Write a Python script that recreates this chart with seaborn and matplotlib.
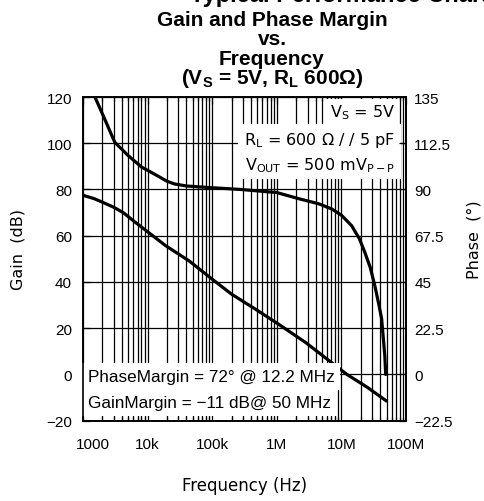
import matplotlib
matplotlib.use('Agg')
import matplotlib.pyplot as plt
import matplotlib.ticker as mticker
from matplotlib.transforms import ScaledTranslation
import pandas as pd
import seaborn as sns

# values
gain_freq = [1e3, 1.5e3, 2e3, 3e3, 4.2e3, 6e3, 9.5e3, 1.9e4, 4.4e4, 1e5, 2e5, 4.7e5,
             1.07e6, 2.8e6, 5.6e6, 1.22e7, 2.5e7, 5e7]
gain_db = [77.5, 76, 74.5, 72.3, 70, 66.5, 62.2, 55.7, 49.1, 41.2, 34.7, 28.2,
           21.7, 13.8, 7.3, 0, -5.5, -11.5]

phase_freq = [1.53e3, 2.05e3, 3.1e3, 5e3, 8e3, 1.45e4, 2e4, 2.6e4, 4e4, 8.4e4, 2.8e5,
              1e6, 2.2e6, 4.5e6, 7.1e6, 1e7, 1.44e7, 1.9e7, 2.3e7, 2.8e7, 3.3e7,
              3.8e7, 4.2e7, 4.7e7, 4.85e7]
phase_deg = [135, 126, 113, 106.5, 101, 96.5, 94, 92.7, 91.7, 91, 90,
             88.5, 85.5, 83, 80.5, 77.5, 72.4, 66, 59.5, 52, 43,
             34, 27, 9, 0]

freq_ticks = [1e3, 1e4, 1e5, 1e6, 1e7, 1e8]
freq_labels = ['1000', '10k', '100k', '1M', '10M', '100M']
gain_ticks = [-20, 0, 20, 40, 60, 80, 100, 120]
phase_ticks = [-22.5, 0, 22.5, 45, 67.5, 90, 112.5, 135]
phase_labels = ['\u221222.5', '0', '22.5', '45', '67.5', '90', '112.5', '135']

gain_df = pd.DataFrame({'freq': gain_freq, 'gain': gain_db})
phase_df = pd.DataFrame({'freq': phase_freq, 'phase': phase_deg})

sns.set_theme(style='white')
plt.rcParams['font.family'] = ['Liberation Sans', 'DejaVu Sans']
plt.rcParams['text.color'] = 'black'
plt.rcParams['axes.labelcolor'] = 'black'
plt.rcParams['xtick.color'] = 'black'
plt.rcParams['ytick.color'] = 'black'
plt.rcParams['mathtext.fontset'] = 'custom'
plt.rcParams['mathtext.rm'] = 'DejaVu Sans'
plt.rcParams['mathtext.bf'] = 'Liberation Sans:bold'

W, H = 485, 502
fig = plt.figure(figsize=(W / 100, H / 100), dpi=100)
ax = fig.add_axes([83 / W, 1 - 421.7 / H, 323 / W, 323.7 / H])

sns.lineplot(gain_df, x='freq', y='gain', color='black', linewidth=2.3, ax=ax)

ax.set_xscale('log')
ax.set_xlim(1e3, 1e8)
ax.set_ylim(-20, 120)
ax.xaxis.set_major_locator(mticker.FixedLocator(freq_ticks))
ax.xaxis.set_minor_locator(mticker.LogLocator(base=10, subs=range(2, 10), numticks=20))
ax.xaxis.set_minor_formatter(mticker.NullFormatter())
ax.set_xticks(freq_ticks)
ax.set_xticklabels(freq_labels)
ax.set_yticks(gain_ticks)
ax.set_yticklabels([str(v).replace('-', '\u2212') for v in gain_ticks])

ax.grid(True, which='both', axis='x', color='black', linewidth=0.9)
ax.grid(True, which='major', axis='y', color='black', linewidth=0.9)
ax.tick_params(axis='x', which='major', direction='in', length=5, width=0.9,
               pad=12, labelsize=11, top=True)
ax.tick_params(axis='x', which='minor', direction='in', length=3, width=0.9,
               bottom=True, top=True)
ax.tick_params(axis='y', which='major', direction='in', length=5, width=0.9,
               pad=8, labelsize=11)
for s in ax.spines.values():
    s.set_color('black')
    s.set_linewidth(1.2)

ax.set_xlabel('Frequency (Hz)', family='DejaVu Sans', fontsize=12)
ax.set_ylabel('Gain  (dB)', family='DejaVu Sans', fontsize=11.5)
ax.xaxis.set_label_coords(0.5, -(477 - 421.7) / 323.7)
ax.yaxis.set_label_coords(-(83 - 25) / 323, (421.7 - 249) / 323.7)

# push the first frequency label inward like the reference
first = ax.get_xticklabels()[0]
first.set_transform(first.get_transform() + ScaledTranslation(0.1, 0, fig.dpi_scale_trans))

# text boxes with white background cover the grid
def note(x, y, s, ha, size, family, pad):
    ax.text(x, y, s, transform=ax.transAxes, ha=ha, va='baseline', family=family,
            fontsize=size, zorder=5,
            bbox=dict(facecolor='white', edgecolor='none', pad=pad))

note(0.966, 0.941, r'V$_\mathrm{S}$ = 5V', 'right', 11.5, 'DejaVu Sans', 2.5)
note(0.966, 0.855, r'R$_\mathrm{L}$ = 600 $\Omega$ / / 5 pF', 'right', 11.5, 'DejaVu Sans', 4)
note(0.966, 0.778, r'V$_\mathrm{OUT}$ = 500 mV$_\mathrm{P-P}$', 'right', 11.5, 'DejaVu Sans', 4)
note(0.0155, 0.1226, 'PhaseMargin = 72\u00b0 @ 12.2 MHz', 'left', 12.3, 'Liberation Sans', 4)
note(0.0155, 0.0423, 'GainMargin = \u221211 dB@ 50 MHz', 'left', 12.3, 'Liberation Sans', 4)

ax2 = ax.twinx()
sns.lineplot(phase_df, x='freq', y='phase', color='black', linewidth=2.3, ax=ax2)
ax2.set_ylim(-22.5, 135)
ax2.set_yticks(phase_ticks)
ax2.set_yticklabels(phase_labels)
ax2.tick_params(axis='y', direction='in', length=5, width=0.9, pad=6, labelsize=11)
ax2.set_ylabel('Phase  (\u00b0)', family='DejaVu Sans', fontsize=11.5)
ax2.yaxis.set_label_coords((467 - 83) / 323, (421.7 - 240) / 323.7)
ax2.grid(False)
for s in ax2.spines.values():
    s.set_color('black')
    s.set_linewidth(1.2)

# titles (the first line is cut by the top edge in the reference)
fig.text(190 / W, 1 - 2 / H, 'Typical Performance Characteristics', ha='left',
         va='baseline', fontsize=17, fontweight='bold')
title_lines = ['Gain and Phase Margin', 'vs.', 'Frequency',
               r'(V$_\mathbf{S}$ = 5V, R$_\mathbf{L}$ 600Ω)']
for line, base in zip(title_lines, [26, 45, 65, 84]):
    fig.text(272 / W, 1 - base / H, line, ha='center', va='baseline',
             fontsize=15, fontweight='bold')

fig.savefig('out.png', dpi=100)
plt.close(fig)
